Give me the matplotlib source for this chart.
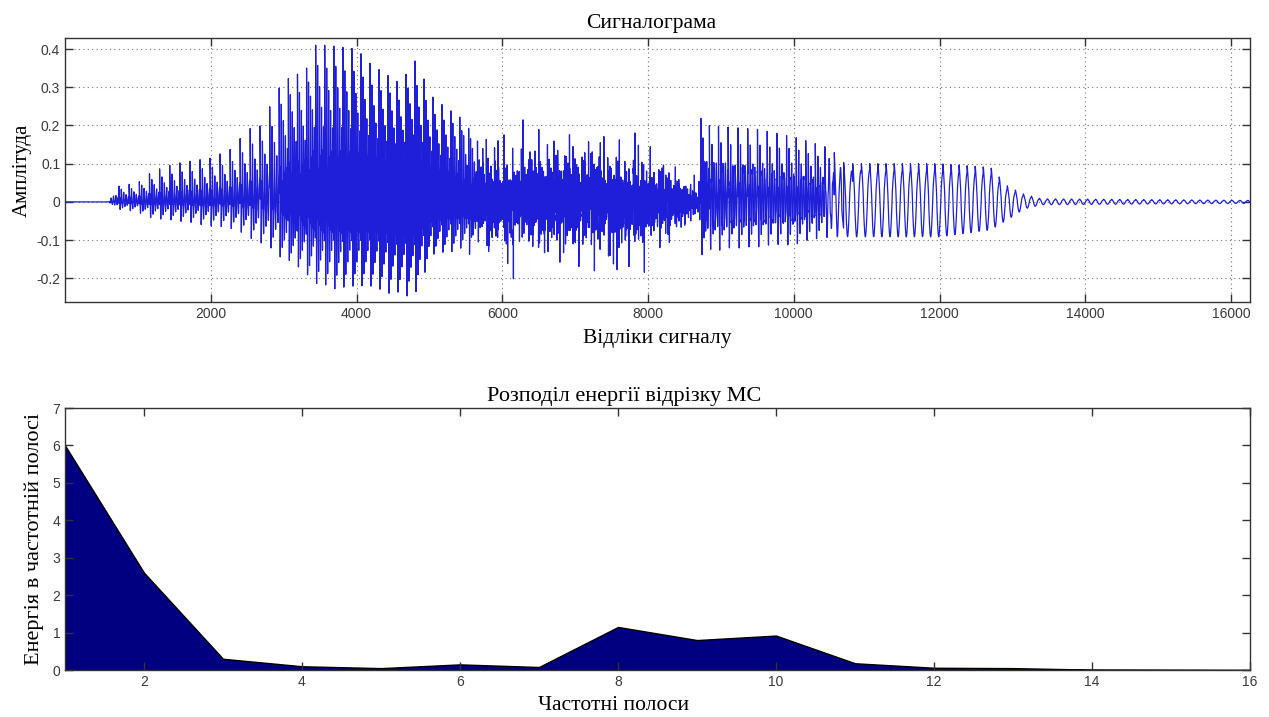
import numpy as np
import matplotlib
matplotlib.use("Agg")
import matplotlib.pyplot as plt

# --- сигналограма: огинаючі та період основного тону (у відліках) ---
n_samples = 16260

env_x = [0, 600, 700, 1000, 1200, 1500, 2000, 2300, 2500, 2700, 2900, 3100, 3300, 3400,
         3600, 4000, 4200, 4600, 4800, 5060, 5430, 5700, 6000, 6300, 7000, 7500, 8100,
         8500, 8680, 8720, 8800, 9500, 10000, 10500, 10700, 12000, 12700, 12940, 13160,
         13400, 16260]
env_upper = [0, 0, 0.04, 0.05, 0.08, 0.10, 0.115, 0.14, 0.19, 0.20, 0.29, 0.33, 0.34, 0.41,
             0.41, 0.40, 0.36, 0.31, 0.37, 0.27, 0.22, 0.14, 0.10, 0.13, 0.13, 0.11, 0.08,
             0.04, 0.02, 0.22, 0.20, 0.19, 0.17, 0.14, 0.10, 0.10, 0.09, 0.04, 0.02,
             0.008, 0.004]
env_lower = [0, 0, -0.02, -0.03, -0.05, -0.055, -0.07, -0.08, -0.10, -0.12, -0.15, -0.17, -0.20, -0.22,
             -0.24, -0.24, -0.24, -0.26, -0.26, -0.15, -0.13, -0.10, -0.10, -0.10, -0.11, -0.12, -0.10,
             -0.05, -0.03, -0.15, -0.14, -0.13, -0.12, -0.10, -0.10, -0.10, -0.08, -0.05, -0.02,
             -0.008, -0.004]

# шумова (фрикативна) складова
noise_x = [0, 5400, 5700, 6000, 6500, 7000, 7500, 8000, 8300, 8650, 8720, 16260]
noise_amp = [0, 0, 0.07, 0.09, 0.08, 0.09, 0.10, 0.09, 0.06, 0.04, 0, 0]

pitch_x = [600, 2500, 3000, 5000, 6000, 8700, 9000, 10500, 11000, 13000, 16260]
pitch_period = [140, 137, 125, 123, 120, 115, 135, 130, 112, 110, 110]

# два резонанси: довжина хвилі, затухання, вага другого
formant_x = [0, 2800, 3000, 5500, 5800, 8700, 8750, 10300, 10700, 16260]
formant_len = [32, 32, 26, 26, 22, 22, 32, 34, 110, 110]
formant_decay = [90, 90, 140, 140, 90, 90, 120, 130, 400, 400]
formant2_len = [11, 11, 9, 9, 8, 8, 12, 12, 40, 40]
formant2_gain = [0.5, 0.5, 0.6, 0.6, 0.6, 0.6, 0.5, 0.5, 0.1, 0.1]

# --- розподіл енергії по частотних полосах ---
bands = np.arange(1, 17)
band_energy = [6.0, 2.6, 0.3, 0.1, 0.05, 0.15, 0.08, 1.15, 0.8, 0.92, 0.18, 0.06, 0.05, 0.01, 0.005, 0.0]

t = np.arange(1, n_samples + 1)

# збудження імпульсами основного тону з затухаючими резонансами
raw = np.zeros(n_samples)
pos = 600.0
while pos < n_samples:
    period = np.interp(pos, pitch_x, pitch_period)
    lam = np.interp(pos, formant_x, formant_len)
    tau = np.interp(pos, formant_x, formant_decay)
    lam2 = np.interp(pos, formant_x, formant2_len)
    g2 = np.interp(pos, formant_x, formant2_gain)
    i0 = int(pos)
    i1 = min(n_samples, int(pos + period) + 1)
    d = np.arange(i0, i1) - pos
    pulse = (np.exp(-d / tau) * np.cos(2 * np.pi * d / lam)
             + g2 * np.exp(-d / (0.6 * tau)) * np.cos(2 * np.pi * d / lam2 + 0.7))
    raw[i0:i1] = pulse / pulse.max()
    pos += period

# стиснення динаміки всередині періоду
raw = np.sign(raw) * np.abs(raw) ** 0.7

up = np.interp(t, env_x, env_upper)
lo = np.interp(t, env_x, env_lower)
voiced = np.clip(raw, 0, None) * up + np.clip(raw, None, 0) * np.abs(lo)
voiced = np.clip(voiced, lo, up)

hiss = np.zeros(n_samples)
for k in range(1, 40):
    f = 0.04 + 0.42 * ((k * 0.6180339887) % 1.0)
    hiss += np.sin(2 * np.pi * f * t + k * 2.39996)
hiss = np.clip(hiss / (2.2 * hiss.std()), -1.3, 1.3)
signal = voiced + hiss * np.interp(t, noise_x, noise_amp)

serif = "Liberation Serif"
sans = "Liberation Sans"
tick_col = "#3a3a3a"

fig = plt.figure(figsize=(12.69, 7.17), dpi=100)

ax1 = fig.add_axes([65 / 1269, 1 - 302 / 717, 1185 / 1269, 264 / 717])
ax1.plot(t, signal, color=(0.12, 0.12, 0.85), lw=0.9)
ax1.set_xlim(0, n_samples)
ax1.set_ylim(-0.262, 0.429)
ax1.set_xticks(np.arange(2000, 16001, 2000))
ax1.set_yticks([-0.2, -0.1, 0, 0.1, 0.2, 0.3, 0.4])
ax1.set_yticklabels(["-0.2", "-0.1", "0", "0.1", "0.2", "0.3", "0.4"])
ax1.grid(True, linestyle=(0, (1, 3)), color="#777777", lw=0.8)
ax1.set_title("Сигналограма", fontfamily=serif, fontsize=15.5, pad=7, x=0.495)
ax1.set_xlabel("Відліки сигналу", fontfamily=serif, fontsize=15.5, labelpad=6)
ax1.set_ylabel("Амплітуда", fontfamily=serif, fontsize=15, labelpad=3)

ax2 = fig.add_axes([65 / 1269, 1 - 670 / 717, 1185 / 1269, 262 / 717])
ax2.fill_between(bands, band_energy, 0, facecolor=(0, 0, 0.5), edgecolor="black", lw=1)
ax2.set_xlim(1, 16)
ax2.set_ylim(0, 7)
ax2.set_xticks(np.arange(2, 17, 2))
ax2.set_yticks(np.arange(0, 8))
ax2.set_title("Розподіл енергії відрізку МС", fontfamily=serif, fontsize=16, pad=5, x=0.472)
ax2.set_xlabel("Частотні полоси", fontfamily=serif, fontsize=15.5, labelpad=4)
ax2.xaxis.set_label_coords(0.463, -0.1)
ax2.set_ylabel("Енергія в частотній полосі", fontfamily=serif, fontsize=16, labelpad=6)

for ax in (ax1, ax2):
    ax.tick_params(direction="in", top=True, right=True, length=6, width=1,
                   labelsize=10, labelcolor=tick_col, color="#333333")
    for lab in ax.get_xticklabels() + ax.get_yticklabels():
        lab.set_fontfamily(sans)
    for s in ax.spines.values():
        s.set_color("#333333")
        s.set_linewidth(1)

fig.savefig("out.png", dpi=100)
